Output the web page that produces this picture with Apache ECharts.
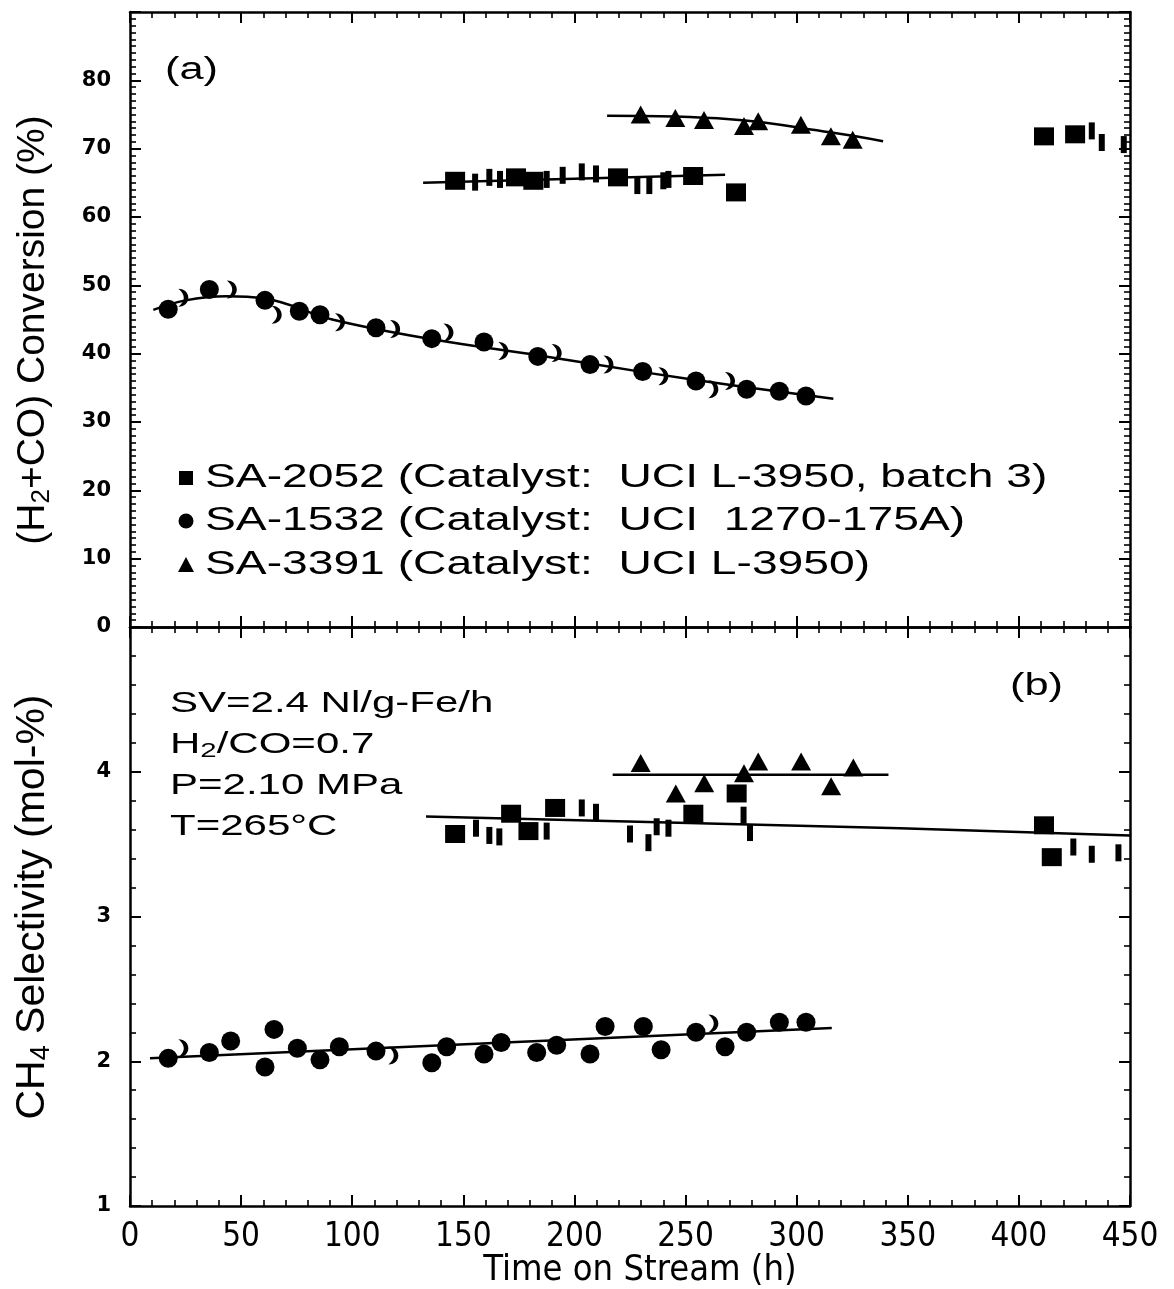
<!DOCTYPE html>
<html>
<head>
<meta charset="utf-8">
<script src="https://cdn.jsdelivr.net/npm/echarts@6/dist/echarts.min.js"></script>
<style>
html,body{margin:0;padding:0;background:#fff;}
#chart{width:1174px;height:1289px;}
</style>
</head>
<body>
<div id="chart"></div>
<script>
// ---------- names ----------
const name2052 = 'SA-2052 (Catalyst:  UCI L-3950, batch 3)';
const name1532 = 'SA-1532 (Catalyst:  UCI  1270-175A)';
const name3391 = 'SA-3391 (Catalyst:  UCI L-3950)';

// ---------- panel (a): conversion (%) ----------
const conv2052Sq = [[146.3,65.3],[173.7,65.8],[181.5,65.3],[219.6,65.8],[253.4,66.0],[272.7,63.6],[411.3,71.8],[425.3,72.1]];
const conv2052Frag = [[155.3,65.1],[161.7,65.8],[166.5,65.5],[187.5,65.5],[194.7,66.1],[203.3,66.6],[209.7,66.3],[228.3,64.6],[233.7,64.6],[240,65.3],[242.3,65.5],[432.8,72.6],[437.3,70.9],[447.2,70.6]];
const conv2052Fit = [[131.9,65.0],[200,65.6],[267.8,66.2]];

const conv1532Circ = [[17.2,46.5],[35.7,49.4],[60.75,47.8],[76.2,46.2],[85.5,45.7],[110.7,43.8],[135.8,42.2],[159.3,41.7],[183.5,39.6],[207,38.4],[230.7,37.4],[254.7,36.0],[277.5,34.8],[292.2,34.5],[304.2,33.8]];
const conv1532Cres = [[24,48.2],[45.8,49.4],[66,45.7],[94.5,44.6],[119.3,43.6],[143.3,43.1],[168,40.4],[192,40.1],[215.3,38.4],[240,36.7],[262.5,34.8],[270,36.0]];
const conv1532Fit = [[10.5,46.4],[25,47.8],[43.5,48.4],[60,48.1],[91,45.0],[136,42.1],[187,39.6],[231,37.3],[275,35.2],[316.5,33.4]];

const conv3391Tri = [[229.8,75.0],[245.4,74.5],[258.3,74.2],[276.3,73.3],[282.7,74.0],[301.9,73.5],[315.4,71.8],[325.2,71.3]];
const conv3391Fit = [[214.7,74.8],[270,74.3],[315,72.4],[338.9,71.1]];

// ---------- panel (b): CH4 selectivity (mol-%) ----------
const sel2052Sq = [[146.3,3.57],[171.5,3.71],[179.3,3.59],[191.3,3.75],[253.5,3.71],[273,3.85],[411.3,3.63],[414.8,3.41]];
const sel2052Frag = [[155.7,3.61],[161.7,3.56],[166.2,3.55],[187.5,3.59],[203.3,3.75],[209.7,3.72],[225,3.57],[233.3,3.51],[237,3.62],[242.3,3.61],[276.1,3.70],[279,3.58],[424.5,3.48],[432.8,3.43],[444.8,3.44]];
const sel2052Fit = [[133.2,3.69],[346.5,3.61],[450,3.56]];

const sel1532Circ = [[17.2,2.02],[35.7,2.06],[45.3,2.14],[60.75,1.96],[64.8,2.22],[75.3,2.09],[85.5,2.01],[94.2,2.10],[110.7,2.07],[135.8,1.99],[142.5,2.10],[159.3,2.05],[167,2.13],[183,2.06],[192,2.11],[207,2.05],[213.8,2.24],[231,2.24],[239,2.08],[254.7,2.20],[267.8,2.10],[277.5,2.20],[292.2,2.27],[304.2,2.27]];
const sel1532Cres = [[24,2.09],[118.5,2.04],[262.5,2.26]];
const sel1532Fit = [[9,2.02],[315.8,2.23]];

const sel3391Tri = [[229.8,4.06],[245.6,3.85],[258.4,3.92],[276.3,3.99],[282.7,4.07],[302,4.07],[315.5,3.90],[325.5,4.03]];
const sel3391Fit = [[217.2,3.98],[341.3,3.98]];

// axis ranges
const xRange = [0, 450, 50];
const convRange = [0, 90, 10];
const selRange = [1, 5, 1];

// ---------- chart ----------
const FONT = '"Liberation Sans", Arial, Helvetica, sans-serif';
const NARROW = '"Liberation Sans Narrow", "DejaVu Sans Condensed", "Liberation Sans", sans-serif';
const TICKFONT = '"DejaVu Sans", "Liberation Sans", sans-serif';
const crescent = 'path://M0,0 C8,0 12,5 12,10 C12,15 8,20 0,20 C5,16 6.5,13 6.5,10 C6.5,7 5,4 0,0 Z';
const WIDE = 1.40; // horizontal stretch of the reference's lettering

function xAx(gi, pos, showLabel) {
  return {
    type: 'value', gridIndex: gi, position: pos,
    min: xRange[0], max: xRange[1], interval: xRange[2],
    axisLine: {show: true, onZero: false, lineStyle: {color: '#000', width: 2.5}},
    axisTick: {show: true, inside: true, length: 11, lineStyle: {color: '#000', width: 2}},
    minorTick: {show: true, splitNumber: 5, length: 6, lineStyle: {color: '#000', width: 1.6}},
    splitLine: {show: false},
    axisLabel: {show: showLabel, color: '#000', fontFamily: NARROW, fontSize: 33, margin: 15}
  };
}
function yAx(gi, pos, r, minorSplit, showLabel, hideMax) {
  return {
    type: 'value', gridIndex: gi, position: pos,
    min: r[0], max: r[1], interval: r[2],
    axisLine: {show: true, onZero: false, lineStyle: {color: '#000', width: 2.5}},
    axisTick: {show: true, inside: true, length: 11, lineStyle: {color: '#000', width: 2}},
    minorTick: {show: true, splitNumber: minorSplit, length: 6, lineStyle: {color: '#000', width: 1.6}},
    splitLine: {show: false},
    axisLabel: {show: showLabel, color: '#000', fontFamily: TICKFONT, fontWeight: 'bold', fontSize: 21, margin: 19,
      formatter: v => (v === hideMax ? '' : String(v))}
  };
}
function sc(name, data, xi, yi, symbol, size, z) {
  return {type: 'scatter', name: name, data: data, xAxisIndex: xi, yAxisIndex: yi,
    symbol: symbol, symbolSize: size, itemStyle: {color: '#000', opacity: 1}, z: z || 3,
    emphasis: {disabled: true}, silent: true};
}
function fit(data, xi, yi, smooth) {
  return {type: 'line', name: 'fit', data: data, xAxisIndex: xi, yAxisIndex: yi,
    showSymbol: false, symbol: 'none', smooth: smooth, lineStyle: {color: '#000', width: 2.5}, z: 2, silent: true};
}
function wideText(x, y, text, size, extra) {
  return Object.assign({type: 'text', x: x, y: y, scaleX: WIDE, silent: true,
    style: Object.assign({text: text, font: size + 'px ' + FONT, fill: '#000', verticalAlign: 'middle'}, extra || {})});
}

// legend rows (icon + label), drawn like the reference's key
const legendRows = [
  {name: name2052, y: 478},
  {name: name1532, y: 521},
  {name: name3391, y: 565}
];

const chart = echarts.init(document.getElementById('chart'), null, {renderer: 'canvas'});
const option = {
  animation: false,
  backgroundColor: '#fff',
  grid: [
    {left: 130, top: 12, width: 1000, height: 615},
    {left: 130, top: 627, width: 1000, height: 579}
  ],
  xAxis: [xAx(0, 'bottom', false), xAx(0, 'top', false), xAx(1, 'bottom', true), xAx(1, 'top', false)],
  yAxis: [
    yAx(0, 'left', convRange, 10, true, 90), yAx(0, 'right', convRange, 10, false, 90),
    yAx(1, 'left', selRange, 5, true, 5), yAx(1, 'right', selRange, 5, false, 5)
  ],
  graphic: [
    // key
    {type: 'rect', shape: {x: 179, y: legendRows[0].y - 7, width: 14, height: 14}, style: {fill: '#000'}, silent: true},
    {type: 'circle', shape: {cx: 186, cy: legendRows[1].y, r: 7.5}, style: {fill: '#000'}, silent: true},
    {type: 'polygon', shape: {points: [[178, legendRows[2].y + 7], [194, legendRows[2].y + 7], [186, legendRows[2].y - 8]]}, style: {fill: '#000'}, silent: true},
    wideText(205, legendRows[0].y, legendRows[0].name, 33),
    wideText(205, legendRows[1].y, legendRows[1].name, 33),
    wideText(205, legendRows[2].y, legendRows[2].name, 33),
    // panel letters
    wideText(165, 70, '(a)', 31),
    wideText(1010, 686, '(b)', 31),
    // conditions
    wideText(170, 683, 'SV=2.4 Nl/g-Fe/h\nH{s|2}/CO=0.7\nP=2.10 MPa\nT=265°C', 30, {
      verticalAlign: 'top', lineHeight: 41,
      rich: {s: {fontSize: 21, fontFamily: FONT, fill: '#000', padding: [14, 0, 0, 0]}}
    }),
    // axis titles
    {type: 'text', x: 33, y: 330, rotation: Math.PI / 2, silent: true, style: {
      text: '(H{s|2}+CO) Conversion (%)', font: '39px ' + FONT, fill: '#000', align: 'center', verticalAlign: 'middle',
      rich: {s: {fontSize: 26, fontFamily: FONT, fill: '#000', padding: [18, 0, 0, 0]}}
    }},
    {type: 'text', x: 33, y: 907, rotation: Math.PI / 2, silent: true, style: {
      text: 'CH{s|4} Selectivity (mol-%)', font: '41px ' + FONT, fill: '#000', align: 'center', verticalAlign: 'middle',
      rich: {s: {fontSize: 27, fontFamily: FONT, fill: '#000', padding: [18, 0, 0, 0]}}
    }},
    {type: 'text', x: 640, y: 1271, silent: true, style: {text: 'Time on Stream (h)', font: '36px ' + NARROW, fill: '#000', align: 'center', verticalAlign: 'middle'}}
  ],
  series: [
    fit(conv2052Fit, 0, 0, false),
    fit(conv1532Fit, 0, 0, 0.4),
    fit(conv3391Fit, 0, 0, 0.4),
    sc(name2052, conv2052Sq, 0, 0, 'rect', [20, 18]),
    sc('frag-a', conv2052Frag, 0, 0, 'rect', [6, 17]),
    sc(name1532, conv1532Circ, 0, 0, 'circle', 19),
    sc('cres-a', conv1532Cres, 0, 0, crescent, [10, 18]),
    sc(name3391, conv3391Tri, 0, 0, 'triangle', [20, 18]),

    fit(sel2052Fit, 2, 2, false),
    fit(sel1532Fit, 2, 2, false),
    fit(sel3391Fit, 2, 2, false),
    sc(name2052, sel2052Sq, 2, 2, 'rect', [20, 18]),
    sc('frag-b', sel2052Frag, 2, 2, 'rect', [6, 17]),
    sc(name1532, sel1532Circ, 2, 2, 'circle', 19),
    sc('cres-b', sel1532Cres, 2, 2, crescent, [10, 18]),
    sc(name3391, sel3391Tri, 2, 2, 'triangle', [20, 18])
  ]
};
chart.setOption(option);
</script>
</body>
</html>
